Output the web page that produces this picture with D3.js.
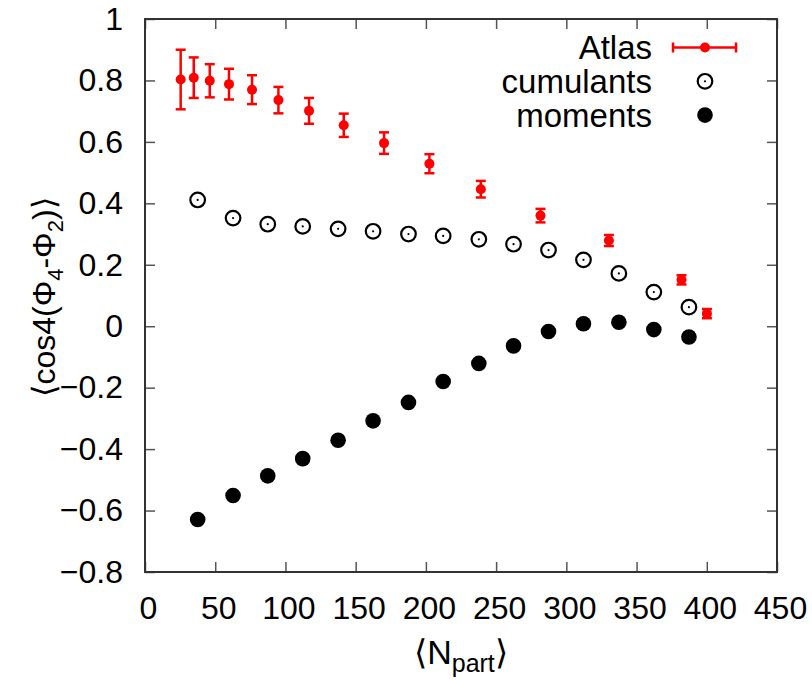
<!DOCTYPE html>
<html>
<head>
<meta charset="utf-8">
<script src="https://cdn.jsdelivr.net/npm/d3@7"></script>
<style>
  body { margin: 0; background: #fff; }
  svg text { font-family: "Liberation Sans", Arial, Helvetica, sans-serif; fill: #000; }
</style>
</head>
<body>
<svg id="chart"></svg>
<script>
// data
const atlasX   = [25.4, 34.7, 46.1, 59.8, 76.2, 95.0, 116.8, 141.5, 170.2, 202.5, 239.1, 281.6, 330.3, 382.0, 400.1];
const atlasY   = [0.803, 0.809, 0.799, 0.788, 0.770, 0.736, 0.701, 0.654, 0.596, 0.529, 0.446, 0.360, 0.279, 0.151, 0.041];
const atlasErr = [0.097, 0.066, 0.054, 0.050, 0.047, 0.043, 0.042, 0.038, 0.035, 0.031, 0.027, 0.022, 0.018, 0.015, 0.015];

const npart    = [37.5, 62.7, 87.4, 112.3, 137.5, 162.4, 187.6, 212.3, 237.7, 262.4, 287.3, 312.2, 337.4, 362.3, 387.3];
const cumY     = [0.411, 0.352, 0.332, 0.325, 0.317, 0.309, 0.300, 0.294, 0.283, 0.267, 0.248, 0.216, 0.172, 0.111, 0.062];
const momY     = [-0.629, -0.551, -0.487, -0.431, -0.371, -0.308, -0.248, -0.180, -0.121, -0.064, -0.017, 0.008, 0.013, -0.011, -0.035];

const xTicks = [0, 50, 100, 150, 200, 250, 300, 350, 400, 450];
const yTicks = [-0.8, -0.6, -0.4, -0.2, 0, 0.2, 0.4, 0.6, 0.8, 1];
const legendLabels = ['Atlas', 'cumulants', 'moments'];

const width = 812, height = 680;
const margin = {top: 19, right: 35, bottom: 108, left: 145};
const innerW = width - margin.left - margin.right;
const innerH = height - margin.top - margin.bottom;
const fontSize = 32;

const svg = d3.select('#chart').attr('width', width).attr('height', height);
const chart = svg.append('g').attr('transform', `translate(${margin.left},${margin.top})`);

const x = d3.scaleLinear().domain([0, 450]).range([0, innerW]);
const y = d3.scaleLinear().domain([-0.8, 1]).range([innerH, 0]);

const fmtY = d => (d === 0 || d === 1) ? String(d) : d3.format('.1f')(d);

// axes with inward ticks, mirrored on top and right
const xAxis = d3.axisBottom(x).tickValues(xTicks).tickSize(-10).tickPadding(24).tickFormat(d3.format('d'));
const yAxis = d3.axisLeft(y).tickValues(yTicks).tickSize(-10).tickPadding(22).tickFormat(fmtY);
const xAxisTop = d3.axisTop(x).tickValues(xTicks).tickSize(-10).tickFormat('');
const yAxisRight = d3.axisRight(y).tickValues(yTicks).tickSize(-10).tickFormat('');

const gx = chart.append('g').attr('transform', `translate(0,${innerH})`).call(xAxis);
const gy = chart.append('g').call(yAxis);
const gxt = chart.append('g').call(xAxisTop);
const gyr = chart.append('g').attr('transform', `translate(${innerW},0)`).call(yAxisRight);

[gx, gy, gxt, gyr].forEach(g => {
    g.select('.domain').remove();
    g.selectAll('.tick line').attr('stroke', '#555').attr('stroke-width', 1.5);
    g.selectAll('text').style('font-size', fontSize + 'px').style('font-family', '"Liberation Sans", Arial, sans-serif').attr('fill', '#000');
});
gx.selectAll('text').attr('dx', 3);

chart.append('rect')
    .attr('x', 0).attr('y', 0)
    .attr('width', innerW).attr('height', innerH)
    .attr('fill', 'none')
    .attr('stroke', '#333')
    .attr('stroke-width', 2);

// Atlas with error bars
const red = '#ff0000';
const atlas = atlasX.map((v, i) => ({x: v, y: atlasY[i], e: atlasErr[i]}));
const eb = chart.append('g').attr('stroke', red).attr('stroke-width', 2.5);
eb.selectAll('line.bar').data(atlas).enter().append('line')
    .attr('x1', d => x(d.x)).attr('x2', d => x(d.x))
    .attr('y1', d => y(d.y - d.e)).attr('y2', d => y(d.y + d.e));
eb.selectAll('line.capTop').data(atlas).enter().append('line')
    .attr('x1', d => x(d.x) - 5).attr('x2', d => x(d.x) + 5)
    .attr('y1', d => y(d.y + d.e)).attr('y2', d => y(d.y + d.e));
eb.selectAll('line.capBot').data(atlas).enter().append('line')
    .attr('x1', d => x(d.x) - 5).attr('x2', d => x(d.x) + 5)
    .attr('y1', d => y(d.y - d.e)).attr('y2', d => y(d.y - d.e));
chart.append('g').selectAll('circle').data(atlas).enter().append('circle')
    .attr('cx', d => x(d.x)).attr('cy', d => y(d.y)).attr('r', 5).attr('fill', red);

// cumulants: open circle with dot
const cum = npart.map((v, i) => ({x: v, y: cumY[i]}));
const gc = chart.append('g');
gc.selectAll('circle.ring').data(cum).enter().append('circle')
    .attr('cx', d => x(d.x)).attr('cy', d => y(d.y)).attr('r', 7.3)
    .attr('fill', 'none').attr('stroke', '#000').attr('stroke-width', 2.2);
gc.selectAll('circle.dot').data(cum).enter().append('circle')
    .attr('cx', d => x(d.x)).attr('cy', d => y(d.y)).attr('r', 1.1).attr('fill', '#000');

// moments: filled circle
const mom = npart.map((v, i) => ({x: v, y: momY[i]}));
chart.append('g').selectAll('circle').data(mom).enter().append('circle')
    .attr('cx', d => x(d.x)).attr('cy', d => y(d.y)).attr('r', 7.8).attr('fill', '#000');

// legend
const legend = svg.append('g');
const legTextX = 652, legSymX = 705, legY0 = 47.5, legStep = 33.8;
legend.selectAll('text').data(legendLabels).enter().append('text')
    .attr('x', legTextX).attr('y', (d, i) => legY0 + i * legStep)
    .attr('dy', '0.35em')
    .attr('text-anchor', 'end')
    .style('font-size', '33px')
    .text(d => d);

const la = legend.append('g').attr('stroke', red).attr('stroke-width', 2.5);
la.append('line').attr('x1', 673).attr('x2', 736).attr('y1', legY0).attr('y2', legY0);
la.append('line').attr('x1', 673).attr('x2', 673).attr('y1', legY0 - 5).attr('y2', legY0 + 5);
la.append('line').attr('x1', 736).attr('x2', 736).attr('y1', legY0 - 5).attr('y2', legY0 + 5);
legend.append('circle').attr('cx', legSymX).attr('cy', legY0).attr('r', 5).attr('fill', red);

legend.append('circle').attr('cx', legSymX).attr('cy', legY0 + legStep).attr('r', 7.3)
    .attr('fill', 'none').attr('stroke', '#000').attr('stroke-width', 2.2);
legend.append('circle').attr('cx', legSymX).attr('cy', legY0 + legStep).attr('r', 1.1).attr('fill', '#000');
legend.append('circle').attr('cx', legSymX).attr('cy', legY0 + 2 * legStep).attr('r', 7.8).attr('fill', '#000');

// axis titles
const xt = svg.append('text')
    .attr('x', 461).attr('y', 664)
    .attr('text-anchor', 'middle')
    .style('font-size', '34px');
xt.append('tspan').text('\u27E8N');
xt.append('tspan').attr('dy', 8).style('font-size', '25px').text('part');
xt.append('tspan').attr('dy', -8).text('\u27E9');

const yt = svg.append('text')
    .attr('transform', 'translate(55,297) rotate(-90)')
    .attr('text-anchor', 'middle')
    .style('font-size', fontSize + 'px');
yt.append('tspan').text('\u27E8cos4(\u03A6');
yt.append('tspan').attr('dy', 8).style('font-size', '22px').text('4');
yt.append('tspan').attr('dy', -8).text('-\u03A6');
yt.append('tspan').attr('dy', 8).style('font-size', '22px').text('2');
yt.append('tspan').attr('dy', -8).text(')\u27E9');
</script>
</body>
</html>
